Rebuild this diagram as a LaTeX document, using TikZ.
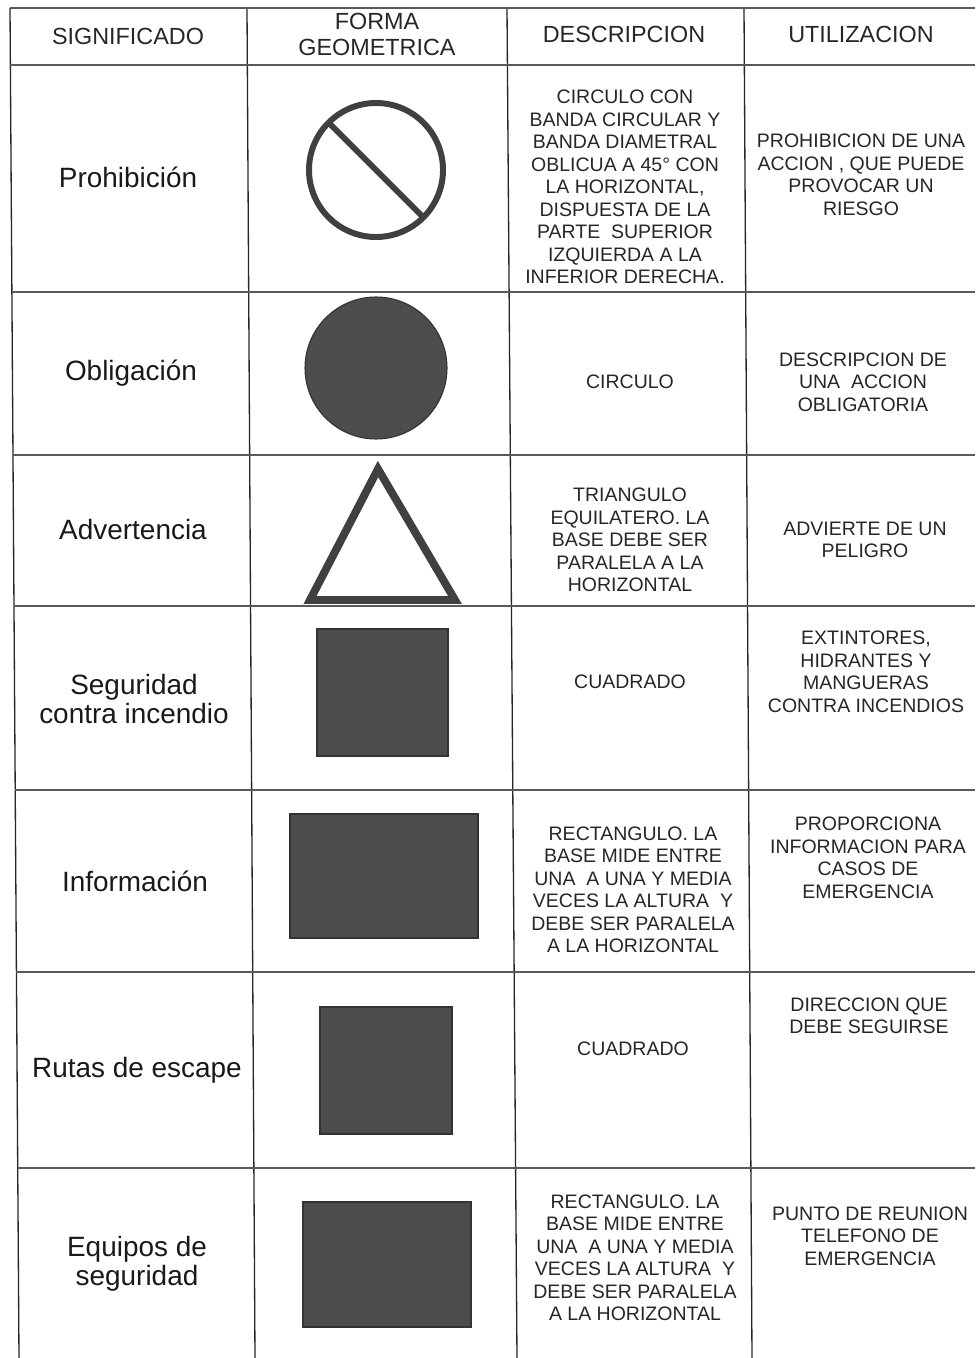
\documentclass[tikz,border=0pt]{standalone}
\usepackage{fontspec}
\setmainfont{Liberation Sans}
\tikzset{
  rejilla/.style={line width=0.75pt, black!85},
  fila/.style={line width=1.2pt, black!65},
  cabecera/.style={font=\fontsize{13.3}{14.8}\selectfont, text=black!85, align=center, inner sep=0pt},
  significado/.style={font=\fontsize{15.9}{16.4}\selectfont, text=black!90, align=center, inner sep=0pt},
  texto/.style={font=\fontsize{11.1}{12.8}\selectfont, text=black!85, align=center, inner sep=0pt},
  relleno/.style={fill=black!70, draw=black!80, line width=0.6pt},
  contorno/.style={draw=black!75, line width=3.4pt},
}
\begin{document}
\begin{tikzpicture}[x=0.02cm, y=-0.02cm]
        \useasboundingbox (0,0) rectangle (975,1358);
        % 表格线(扫描件略有倾斜)
        \foreach \xa/\xb in {10/19, 247/255, 507/517, 744/752}
            \draw[rejilla] (\xa,8) -- (\xb,1358);
        \foreach \y in {8,65,292,455,606,790,972,1168}
            \draw[fila] ({10+9*\y/1350},\y) -- (975,\y);
        % 表头
        \node[cabecera] (hsig) at (128,36) {SIGNIFICADO};
        \node[cabecera] (hforma) at (377,34) {FORMA\\GEOMETRICA};
        \node[cabecera] (hdesc) at (624,34) {DESCRIPCION};
        \node[cabecera] (hutil) at (861,34) {UTILIZACION};
        % 第一列:含义
        \node[significado] (sig1) at (128,177) {Prohibición};
        \node[significado] (sig2) at (131,373) {Obligación};
        \node[significado] (sig3) at (133,530) {Advertencia};
        \node[significado] (sig4) at (134,699) {Seguridad\\contra incendio};
        \node[significado] (sig5) at (135,881) {Información};
        \node[significado] (sig6) at (137,1070) {Rutas de escape};
        \node[significado] (sig7) at (137,1264) {Equipos de\\seguridad};
        % 第二列:几何形状
        \draw[contorno] (376,170) circle (67);                 % 禁止圆环
        \draw[contorno] (376,170) ++(225:67) -- ++(45:134);   % 左上到右下的斜带
        \draw[relleno] (376,368) circle (71);                  % 实心圆
        \draw[contorno, line width=4.5pt, line join=miter]
            (378,469) -- (455,600) -- (310,600) -- cycle;       % 三角形
        \draw[relleno] (317,629) rectangle (448,756);
        \draw[relleno] (290,814) rectangle (478,938);
        \draw[relleno] (320,1007) rectangle (452,1134);
        \draw[relleno] (303,1202) rectangle (471,1327);
        % 第三列:描述
        \node[texto] (desc1) at (625,187) {CIRCULO CON\\BANDA CIRCULAR Y\\BANDA DIAMETRAL\\OBLICUA A 45° CON\\LA HORIZONTAL,\\DISPUESTA DE LA\\PARTE\ \ SUPERIOR\\IZQUIERDA A LA\\INFERIOR DERECHA.};
        \node[texto] (desc2) at (630,382) {CIRCULO};
        \node[texto] (desc3) at (630,540) {TRIANGULO\\EQUILATERO. LA\\BASE DEBE SER\\PARALELA A LA\\HORIZONTAL};
        \node[texto] (desc4) at (630,682) {CUADRADO};
        \node[texto] (desc5) at (633,890) {RECTANGULO. LA\\BASE MIDE ENTRE\\UNA\ \ A UNA Y MEDIA\\VECES LA ALTURA\ \ Y\\DEBE SER PARALELA\\A LA HORIZONTAL};
        \node[texto] (desc6) at (633,1049) {CUADRADO};
        \node[texto] (desc7) at (635,1258) {RECTANGULO. LA\\BASE MIDE ENTRE\\UNA\ \ A UNA Y MEDIA\\VECES LA ALTURA\ \ Y\\DEBE SER PARALELA\\A LA HORIZONTAL};
        % 第四列:用途
        \node[texto] (util1) at (861,175) {PROHIBICION DE UNA\\ACCION , QUE PUEDE\\PROVOCAR UN\\RIESGO};
        \node[texto] (util2) at (863,382) {DESCRIPCION DE\\UNA\ \ ACCION\\OBLIGATORIA};
        \node[texto] (util3) at (865,540) {ADVIERTE DE UN\\PELIGRO};
        \node[texto] (util4) at (866,672) {EXTINTORES,\\HIDRANTES Y\\MANGUERAS\\CONTRA INCENDIOS};
        \node[texto] (util5) at (868,858) {PROPORCIONA\\INFORMACION PARA\\CASOS DE\\EMERGENCIA};
        \node[texto] (util6) at (869,1016) {DIRECCION QUE\\DEBE SEGUIRSE};
        \node[texto] (util7) at (870,1236) {PUNTO DE REUNION\\TELEFONO DE\\EMERGENCIA};
    \end{tikzpicture}
\end{document}
